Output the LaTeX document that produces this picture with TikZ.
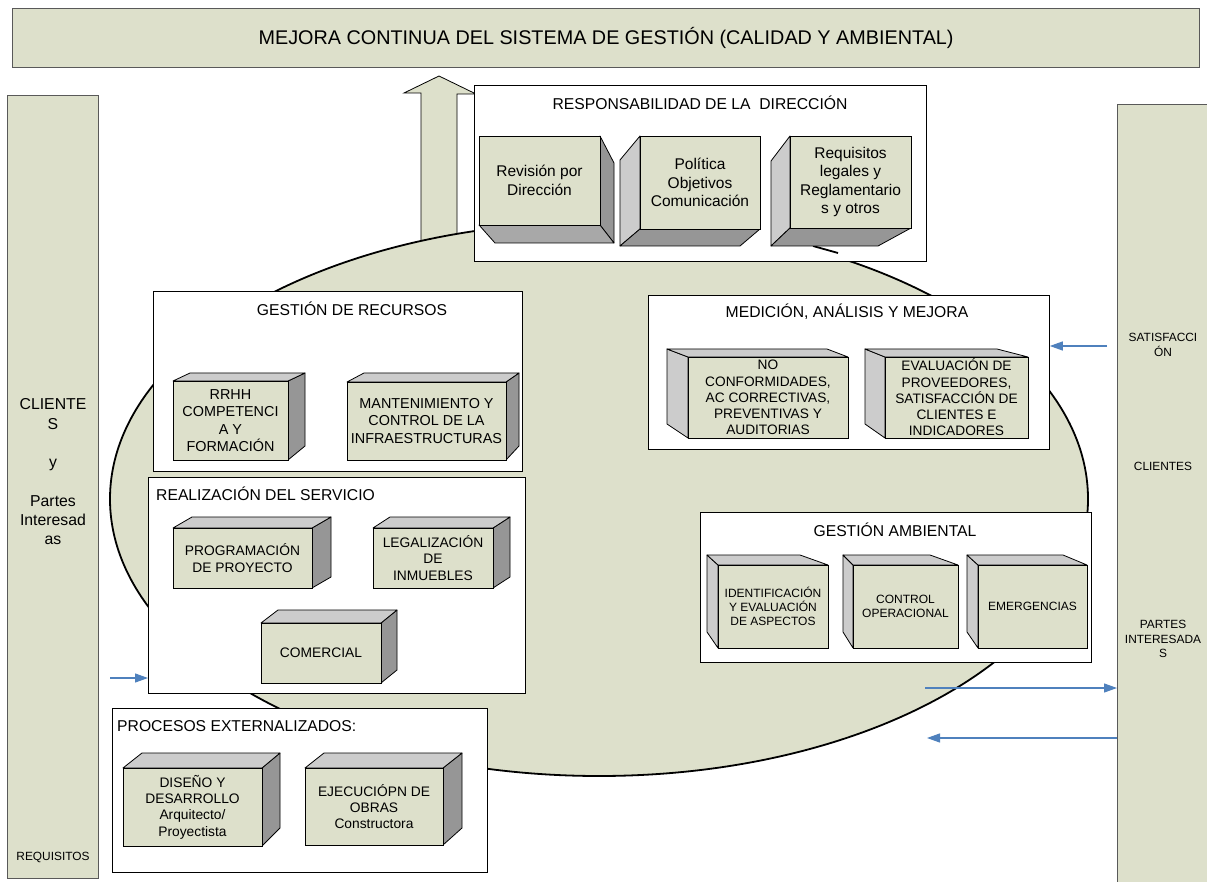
\documentclass[tikz,border=0pt]{standalone}
\usepackage{fontspec}
\setmainfont{Liberation Sans}
\usetikzlibrary{shapes.geometric,arrows.meta,fit}
\definecolor{olv}{RGB}{221,224,203}
\definecolor{lgray}{RGB}{204,204,204}
\definecolor{dgray}{RGB}{150,150,150}
\definecolor{mgray}{RGB}{168,168,168}
\definecolor{blu}{RGB}{79,129,189}
\tikzset{
  facestyle/.style={draw=black, line width=0.8pt, line join=round},
  frontface/.style={draw=black, line width=0.8pt, fill=olv, inner sep=0pt},
  cubetext/.style={align=center, inner sep=0pt, text=black},
  wbox/.style={draw=black, line width=0.8pt, fill=white, inner sep=0pt, anchor=north west},
  bar/.style={draw=black!65, line width=1.2pt, fill=olv, inner sep=0pt, anchor=north west},
  ttl/.style={font=\fontsize{15.7}{18}\selectfont, inner sep=0pt},
  bluearrow/.style={draw=blu, line width=1.2pt, -{Triangle[length=13pt,width=9pt]}},
  fA/.style={font=\fontsize{15.5}{18.5}\selectfont},
  fB/.style={font=\fontsize{13.7}{16.2}\selectfont},
  fC/.style={font=\fontsize{12}{13.7}\selectfont},
  fD/.style={font=\fontsize{14.4}{17.5}\selectfont},
  fE/.style={font=\fontsize{13.8}{16.3}\selectfont},
  fS/.style={font=\fontsize{11.9}{14.2}\selectfont, align=center, inner sep=0pt},
}
\newcommand\cubefacesRT[1]{%
  \filldraw[facestyle, fill=dgray] (#1a -| #1b) -- (#1c -| #1d) -- (#1d) -- (#1b) -- cycle;
  \filldraw[facestyle, fill=lgray] (#1a) -- (#1c) -- (#1c -| #1d) -- (#1a -| #1b) -- cycle;}
\newcommand\cubefacesLT[1]{%
  \filldraw[facestyle, fill=lgray] (#1a) -- (#1c) -- (#1d -| #1c) -- (#1b -| #1a) -- cycle;
  \filldraw[facestyle, fill=lgray] (#1a) -- (#1c) -- (#1c -| #1d) -- (#1a -| #1b) -- cycle;}
\newcommand\cubefacesRB[1]{%
  \filldraw[facestyle, fill=dgray] (#1a -| #1b) -- (#1c -| #1d) -- (#1d) -- (#1b) -- cycle;
  \filldraw[facestyle, fill=mgray] (#1b -| #1a) -- (#1d -| #1c) -- (#1d) -- (#1b) -- cycle;}
\newcommand\cubefacesLB[1]{%
  \filldraw[facestyle, fill=lgray] (#1a) -- (#1c) -- (#1d -| #1c) -- (#1b -| #1a) -- cycle;
  \filldraw[facestyle, fill=dgray] (#1b -| #1a) -- (#1d -| #1c) -- (#1d) -- (#1b) -- cycle;}
\newcommand\mycube[8]{%
  \coordinate (#6a) at (#2); \coordinate (#6b) at (#3);
  \coordinate (#6c) at (#4); \coordinate (#6d) at (#5);
  \csname cubefaces#1\endcsname{#6}%
  \node[frontface, fit=(#6a)(#6b)] (#6) {};
  \node[cubetext, #7] (#6t) at (#6.center) {#8};
}
\begin{document}
\begin{tikzpicture}[x=1pt,y=-1pt]
\useasboundingbox (0,0) rectangle (1207,882);
\fill[white] (0,0) rectangle (1207,882);

% banner and side bars
\node[bar, minimum width=1187pt, minimum height=59pt, font=\fontsize{19.8}{23}\selectfont] (banner) at (12,8) {MEJORA CONTINUA DEL SISTEMA DE GESTIÓN (CALIDAD Y AMBIENTAL)};
\node[bar, minimum width=91pt, minimum height=783pt] (lbar) at (7,95) {};
\node[bar, minimum width=110pt, minimum height=800pt] (rbar) at (1117,104) {};
\node[font=\fontsize{15.8}{19.3}\selectfont, align=center, inner sep=0pt] (lbtext) at (53,472) {CLIENTE\\S\\[19.3pt]y\\[19.3pt]Partes\\Interesad\\as};
\node[fS] (req) at (53,857) {REQUISITOS};
\node[fS] (sat) at (1163,345) {SATISFACCI\\ÓN};
\node[fS] (cli) at (1163,466) {CLIENTES};
\node[fS] (pint) at (1163,639) {PARTES\\INTERESADA\\S};

% up arrow
\filldraw[fill=olv, draw=black, line width=0.8pt, line join=miter] (421,260) -- (421,93) -- (404,93) -- (439,76) -- (476,94) -- (457,94) -- (457,260) -- cycle;

% ellipse
\node[ellipse, draw=black, line width=1.8pt, fill=olv, minimum width=978pt, minimum height=554pt, inner sep=0pt] (ell) at (599,499) {};

% boxes
\node[wbox, minimum width=452pt, minimum height=176pt] (resp) at (474,85) {};
\node[wbox, minimum width=369pt, minimum height=180pt] (rec) at (153,291) {};
\node[wbox, minimum width=401pt, minimum height=154pt] (med) at (648,295) {};
\node[wbox, minimum width=391pt, minimum height=150pt] (amb) at (700,512) {};
\node[wbox, minimum width=377pt, minimum height=216pt] (real) at (148,477) {};
\node[wbox, minimum width=375pt, minimum height=164pt] (proc) at (112,708) {};
\draw[line width=1.8pt] (813,246) -- (838,253);

% titles
\node[ttl] (resptitle) at (700,103) {RESPONSABILIDAD DE LA\ \ DIRECCIÓN};
\node[ttl] (rectitle) at (352,309) {GESTIÓN DE RECURSOS};
\node[ttl] (medtitle) at (847,312) {MEDICIÓN, ANÁLISIS Y MEJORA};
\node[ttl] (ambtitle) at (895,530) {GESTIÓN AMBIENTAL};
\node[ttl, anchor=west] (realtitle) at (156,494) {REALIZACIÓN DEL SERVICIO};
\node[ttl, anchor=west] (proctitle) at (117,726) {PROCESOS EXTERNALIZADOS:};

% cubes: responsabilidad
\mycube{RB}{479,136}{600,225}{495,163}{614,243}{rev}{fA}{Revisión por\\Dirección}
\mycube{LB}{640,136}{760,229}{620,160}{740,246}{pol}{fA}{Política\\Objetivos\\Comunicación}
\mycube{LB}{790,136}{911,228}{771,161}{878,246}{reqs}{fA}{Requisitos\\legales y\\Reglamentario\\s y otros}
% medicion
\mycube{LT}{688,357}{848,438}{667,349}{827,424}{nc}{fB}{NO\\CONFORMIDADES,\\AC CORRECTIVAS,\\PREVENTIVAS Y\\AUDITORIAS}
\mycube{LT}{885,357}{1028,438}{865,349}{997,424}{ev}{fB}{EVALUACIÓN DE\\PROVEEDORES,\\SATISFACCIÓN DE\\CLIENTES E\\INDICADORES}
% ambiental
\mycube{LT}{718,565}{828,648}{707,555}{800,632}{ia}{fC}{IDENTIFICACIÓN\\Y EVALUACIÓN\\DE ASPECTOS}
\mycube{LT}{853,565}{958,648}{843,555}{930,632}{co}{fC}{CONTROL\\OPERACIONAL}
\mycube{LT}{978,565}{1087,648}{967,555}{1063,632}{em}{fC}{EMERGENCIAS}
% recursos
\mycube{RT}{173,381}{288,460}{190,373}{305,446}{rh}{fD}{RRHH\\COMPETENCI\\A Y\\FORMACIÓN}
\mycube{RT}{347,382}{506,460}{364,373}{519,446}{mt}{fD}{MANTENIMIENTO Y\\CONTROL DE LA\\INFRAESTRUCTURAS}
% realizacion
\mycube{RT}{173,528}{312,588}{192,517}{331,577}{pp}{fE}{PROGRAMACIÓN\\DE PROYECTO}
\mycube{RT}{373,528}{493,588}{390,517}{510,577}{li}{fE}{LEGALIZACIÓN\\DE\\INMUEBLES}
\mycube{RT}{261,623}{381,683}{278,610}{397,670}{cm}{fE}{COMERCIAL}
% procesos externalizados
\mycube{RT}{123,768}{262,846}{142,753}{280,828}{ds}{fE}{DISEÑO Y\\DESARROLLO\\Arquitecto/\\Proyectista}
\mycube{RT}{305,768}{443,845}{324,753}{462,828}{ej}{fE}{EJECUCIÓPN DE\\OBRAS\\Constructora}

% blue arrows
\coordinate (a1s) at (1107,346);
\draw[bluearrow] (a1s) -- (a1s -| med.east);
\coordinate (a2s) at (925,688);
\draw[bluearrow] (a2s) -- (a2s -| rbar.west);
\coordinate (a3e) at (927,738);
\draw[bluearrow] (a3e -| rbar.west) -- (a3e);
\coordinate (a4s) at (110,678);
\draw[bluearrow] (a4s) -- (a4s -| real.west);
\end{tikzpicture}
\end{document}
